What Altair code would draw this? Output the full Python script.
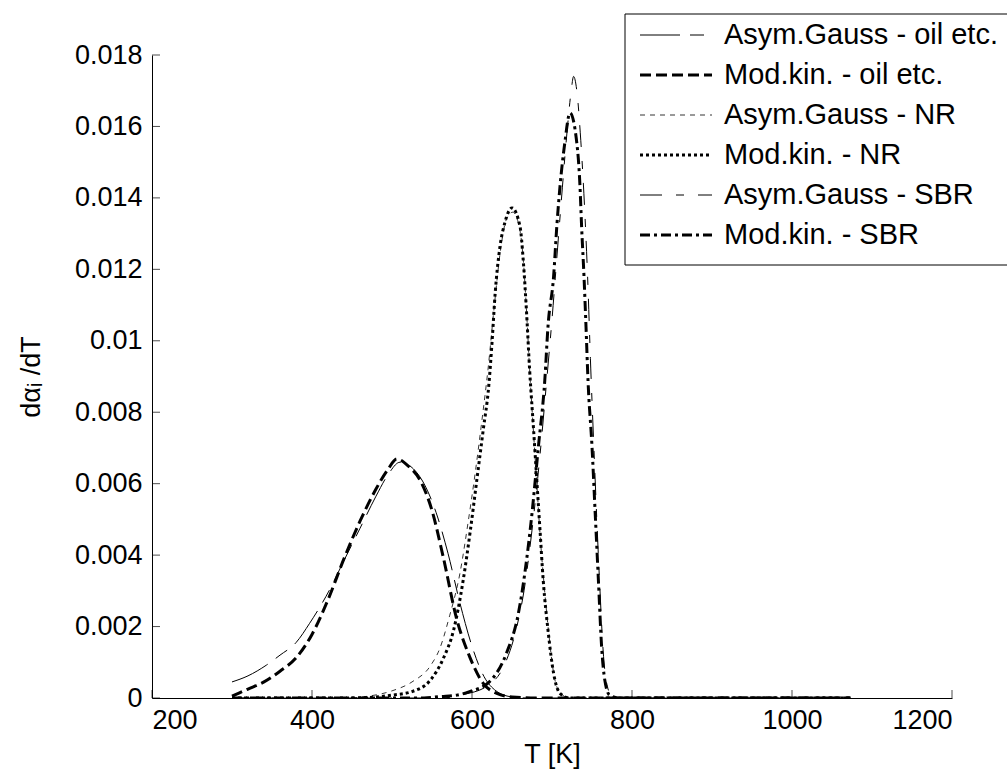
import altair as alt
import pandas as pd

# ---------------- data (values in units of 1e-3 K^-1) ----------------
series_names = [
    "Asym.Gauss - oil etc.",
    "Mod.kin. - oil etc.",
    "Asym.Gauss - NR",
    "Mod.kin. - NR",
    "Asym.Gauss - SBR",
    "Mod.kin. - SBR",
]

oil_ag_T = [300, 320, 343, 360, 380, 397, 422, 440, 460, 480, 495, 510, 525, 540, 555, 570, 585, 600, 615, 630, 650, 670, 1073]
oil_ag_v = [0.45, 0.62, 0.92, 1.2, 1.55, 2.09, 3.03, 3.85, 4.75, 5.65, 6.25, 6.6, 6.45, 6.0, 5.2, 4.05, 2.65, 1.45, 0.6, 0.2, 0.03, 0.0, 0.0]

oil_mk_T = [300, 320, 340, 360, 380, 400, 420, 440, 460, 480, 495, 506, 520, 535, 550, 564, 581, 597, 614, 631, 650, 680, 1073]
oil_mk_v = [0.05, 0.25, 0.45, 0.75, 1.12, 1.78, 2.75, 3.9, 4.95, 5.85, 6.4, 6.69, 6.5, 6.1, 5.25, 3.95, 2.2, 1.16, 0.41, 0.13, 0.03, 0.0, 0.0]

nr_ag_T = [300, 440, 470, 500, 525, 548, 560, 572, 585, 595, 604, 612, 620, 628, 636, 643, 651, 659, 664, 668, 672, 677, 681, 685, 690, 696, 702, 710, 722, 1073]
nr_ag_v = [0.0, 0.0, 0.05, 0.2, 0.45, 0.9, 1.4, 2.3, 3.5, 4.9, 6.3, 7.7, 9.2, 11.0, 12.6, 13.4, 13.6, 13.2, 12.3, 10.9, 9.2, 7.4, 6.0, 4.6, 3.2, 1.8, 0.7, 0.15, 0.0, 0.0]

nr_mk_T = [300, 450, 480, 500, 525, 548, 564, 577, 589, 598, 606, 614, 621, 625, 629, 635, 641, 650, 660, 664, 668, 672, 677, 681, 685, 689, 695, 702, 710, 722, 1073]
nr_mk_v = [0.0, 0.0, 0.03, 0.08, 0.18, 0.5, 1.1, 1.9, 3.3, 4.7, 6.1, 7.5, 8.75, 9.94, 11.34, 12.64, 13.3, 13.72, 13.2, 12.27, 10.87, 9.2, 7.5, 6.1, 4.7, 3.3, 1.9, 0.69, 0.13, 0.0, 0.0]

sbr_ag_T = [300, 560, 590, 620, 640, 655, 665, 675, 685, 693, 700, 707, 713, 719, 724, 727, 731, 736, 741, 745, 748, 752, 756, 760, 764, 768, 775, 790, 1073]
sbr_ag_v = [0.0, 0.0, 0.1, 0.35, 0.9, 1.9, 3.0, 4.7, 6.8, 8.8, 10.6, 12.6, 14.3, 15.9, 17.0, 17.4, 17.0, 15.6, 13.6, 11.5, 9.5, 7.2, 5.0, 3.0, 1.3, 0.45, 0.05, 0.0, 0.0]

sbr_mk_T = [300, 540, 560, 581, 597, 622, 643, 658, 666, 675, 683, 691, 695, 702, 706, 710, 716, 722.5, 731, 735, 737, 740, 742.5, 745, 750, 754, 758, 762, 766, 772, 785, 1073]
sbr_mk_v = [0.0, 0.0, 0.04, 0.08, 0.18, 0.46, 1.25, 2.37, 3.49, 5.17, 7.04, 8.9, 10.4, 11.8, 13.2, 14.32, 15.54, 16.38, 15.54, 14.32, 13.2, 11.8, 10.4, 8.9, 7.04, 5.17, 3.3, 1.44, 0.5, 0.08, 0.0, 0.0]

x_ticks = [200, 400, 600, 800, 1000, 1200]
y_ticks = [0, 0.002, 0.004, 0.006, 0.008, 0.01, 0.012, 0.014, 0.016, 0.018]

# ---------------- styles ----------------
dashes = [[40, 10, 14, 10], [11, 5], [5, 5], [3, 3], [22, 14, 8, 14], [10, 4, 3, 4]]
widths = [1, 3, 0.8, 3, 1, 3]

all_T = [oil_ag_T, oil_mk_T, nr_ag_T, nr_mk_T, sbr_ag_T, sbr_mk_T]
all_v = [oil_ag_v, oil_mk_v, nr_ag_v, nr_mk_v, sbr_ag_v, sbr_mk_v]

FONT = "Liberation Sans"
W, H = 800, 643

xscale = alt.Scale(domain=[200, 1200], nice=False, zero=False)
yscale = alt.Scale(domain=[0, 0.018], nice=False)

x_axis = alt.Axis(values=x_ticks, format="d", title="T [K]", ticks=False,
                  labelPadding=9, titlePadding=8, grid=False)
y_axis = alt.Axis(values=y_ticks, format="~g", title="dαᵢ /dT", ticks=False,
                  labelPadding=10, titlePadding=29, grid=False)

line_layers = []
for name, Ts, vs, d, w in zip(series_names, all_T, all_v, dashes, widths):
    sdf = pd.DataFrame({"T": Ts, "v": [x * 1e-3 for x in vs], "series": name})
    line_layers.append(
        alt.Chart(sdf).mark_line(
            color="black", interpolate="monotone", clip=True, strokeDash=d, strokeWidth=w
        ).encode(
            x=alt.X("T:Q", scale=xscale, axis=x_axis),
            y=alt.Y("v:Q", scale=yscale, axis=y_axis),
        )
    )

xt = alt.Chart(pd.DataFrame({"T": x_ticks})).mark_tick(
    color="black", size=8, thickness=1, orient="vertical"
).encode(x=alt.X("T:Q", scale=xscale, axis=x_axis), y=alt.value(H - 4))

yt = alt.Chart(pd.DataFrame({"v": y_ticks})).mark_tick(
    color="black", size=8, thickness=1, orient="horizontal"
).encode(y=alt.Y("v:Q", scale=yscale, axis=y_axis), x=alt.value(4))

# ---------------- legend (drawn by hand, MATLAB style) ----------------
LEG_X0, LEG_X1, LEG_Y0, LEG_Y1 = 473, 870, -41, 210
ROW0, ROWSTEP = -20, 40
SYM_X0, SYM_X1, TXT_X = 488, 560, 572

box = alt.Chart(pd.DataFrame({"a": [0]})).mark_rect(
    fill="white", stroke="black", strokeWidth=1
).encode(x=alt.value(LEG_X0), x2=alt.value(LEG_X1), y=alt.value(LEG_Y0), y2=alt.value(LEG_Y1))

leg_layers = []
for i, (name, d, w) in enumerate(zip(series_names, dashes, widths)):
    yy = ROW0 + i * ROWSTEP
    leg_layers.append(
        alt.Chart(pd.DataFrame({"series": [name]})).mark_rule(
            color="black", strokeDash=d, strokeWidth=w
        ).encode(x=alt.value(SYM_X0), x2=alt.value(SYM_X1), y=alt.value(yy))
    )
    leg_layers.append(
        alt.Chart(pd.DataFrame({"series": [name]})).mark_text(
            align="left", baseline="middle", font=FONT, fontSize=29, color="black"
        ).encode(x=alt.value(TXT_X), y=alt.value(yy), text="series:N")
    )

chart = alt.layer(xt, yt, *line_layers, box, *leg_layers).properties(
    width=W, height=H,
    autosize=alt.AutoSizeParams(type="none"),
    padding={"left": 152, "top": 55, "right": 55, "bottom": 74},
    background="white",
).configure_view(stroke=None).configure_axis(
    domainColor="black", domainWidth=1,
    labelFont=FONT, labelFontSize=27, labelColor="black",
    titleFont=FONT, titleFontSize=27, titleColor="black", titleFontWeight="normal",
)

chart.save("out.html", embed_options={"renderer": "svg", "actions": False})
